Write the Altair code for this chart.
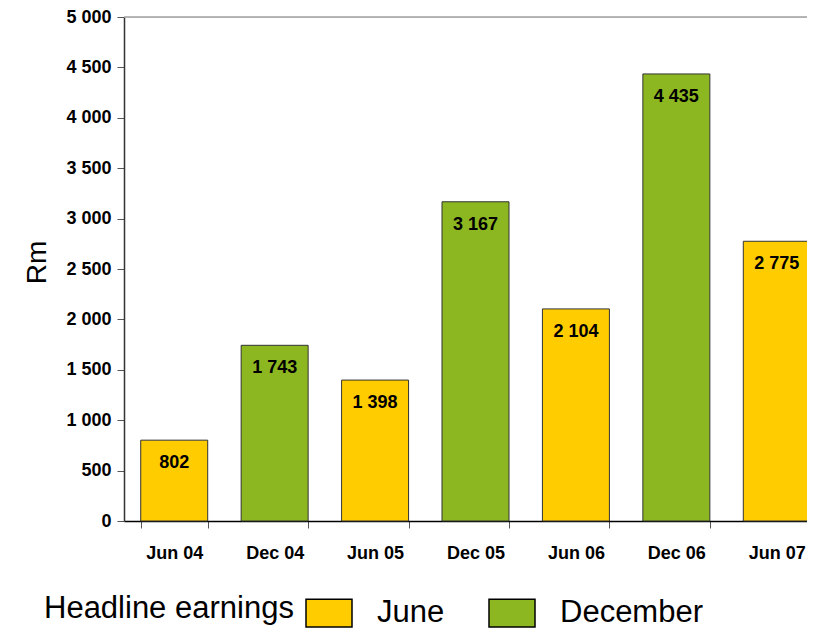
import altair as alt
import pandas as pd

periods = ["Jun 04", "Dec 04", "Jun 05", "Dec 05", "Jun 06", "Dec 06", "Jun 07"]
values = [802, 1743, 1398, 3167, 2104, 4435, 2775]
halves = ["June", "December", "June", "December", "June", "December", "June"]
legend_order = ["June", "December"]
legend_colors = ["#FFCC00", "#8DB721"]
y_ticks = [0, 500, 1000, 1500, 2000, 2500, 3000, 3500, 4000, 4500, 5000]

df = pd.DataFrame({"period": periods, "value": values, "half": halves})
top_df = pd.DataFrame({"top": [5000]})

FONT = "Liberation Sans"

x_enc = alt.X(
    "period:N",
    sort=periods,
    scale=alt.Scale(range=[0, 703], paddingInner=0.333, paddingOuter=0.1665),
    axis=alt.Axis(
        title=None,
        labelAngle=0,
        labelFont=FONT,
        labelFontSize=18,
        labelFontWeight="bold",
        labelColor="black",
        labelPadding=16,
        tickBand="extent",
        tickSize=7,
        tickColor="#555555",
        domainColor="black",
        domainWidth=1.5,
        grid=False,
    ),
)

y_enc = alt.Y(
    "value:Q",
    scale=alt.Scale(domain=[0, 5000], nice=False),
    axis=alt.Axis(
        title="Rm",
        values=y_ticks,
        labelExpr="replace(format(datum.value, ','), ',', ' ')",
        labelFont=FONT,
        labelFontSize=18,
        labelFontWeight="bold",
        labelColor="black",
        labelPadding=6,
        tickSize=7,
        tickColor="#555555",
        domainColor="#333333",
        domainWidth=1.5,
        grid=False,
        titleFont=FONT,
        titleFontSize=28,
        titleFontWeight="normal",
        titleColor="black",
        titleX=-79,
        titleY=245,
        titleAlign="center",
        titleBaseline="alphabetic",
        titleAngle=270,
    ),
)

color_enc = alt.Color(
    "half:N",
    scale=alt.Scale(domain=legend_order, range=legend_colors),
    legend=alt.Legend(
        orient="none",
        legendX=-80,
        legendY=572,
        direction="horizontal",
        title="Headline earnings",
        titleOrient="left",
        titleAnchor="middle",
        titleBaseline="middle",
        titleLimit=400,
        titleFont=FONT,
        titleFontSize=31,
        titleFontWeight="normal",
        titleColor="black",
        titlePadding=11,
        labelFont=FONT,
        labelFontSize=31,
        labelColor="black",
        labelOffset=24,
        labelLimit=300,
        columnPadding=41,
        symbolType="M-1,-0.6H1V0.6H-1Z",
        symbolSize=2116,
        symbolStrokeColor="black",
        symbolStrokeWidth=1.5,
        symbolOpacity=1,
    ),
)

bars = alt.Chart(df).mark_bar(stroke="#333333", strokeWidth=1).encode(
    x=x_enc, y=y_enc, color=color_enc
)

text = alt.Chart(df).transform_calculate(
    label="replace(format(datum.value, ','), ',', ' ')"
).mark_text(
    baseline="top", dy=14, font=FONT, fontSize=18, fontWeight="bold", color="black"
).encode(
    x=alt.X("period:N", sort=periods),
    y=alt.Y("value:Q"),
    text="label:N",
)

top_rule = alt.Chart(top_df).mark_rule(color="#A0A0A0", strokeWidth=1.5).encode(
    y=alt.Y("top:Q"),
    x=alt.value(0),
    x2=alt.value(703),
)

chart = alt.layer(top_rule, bars, text).properties(
    width=683,
    height=504,
    autosize=alt.AutoSizeParams(type="none"),
    padding={"left": 116, "top": 9, "right": 0, "bottom": 107},
).configure_view(stroke=None).configure(background="white")

chart.save("out.html", embed_options={"renderer": "svg", "actions": False})
